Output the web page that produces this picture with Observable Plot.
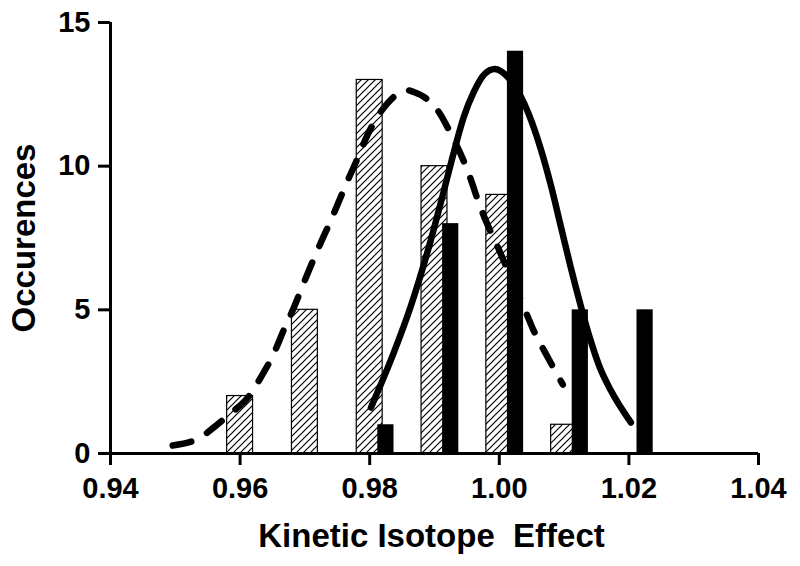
<!DOCTYPE html>
<html>
<head>
<meta charset="utf-8">
<script src="https://cdn.jsdelivr.net/npm/d3@7"></script>
<script src="https://cdn.jsdelivr.net/npm/@observablehq/plot@0.6"></script>
<style>
  html, body { margin: 0; padding: 0; background: #fff; }
  svg text { white-space: pre; }
</style>
</head>
<body>
<div id="chart"></div>
<script>
// Histogram bars (bin centres and counts)
const hatchX = [0.96, 0.97, 0.98, 0.99, 1.00, 1.01];
const hatchN = [2, 5, 13, 10, 9, 1];
const blackX = [0.9825, 0.9925, 1.0025, 1.0125, 1.0225];
const blackN = [1, 8, 14, 5, 5];

// Fitted curves
const dashX = [0.9496, 0.9539, 0.9559, 0.9585, 0.9612, 0.9632, 0.9652, 0.9667, 0.9683, 0.9698, 0.9724, 0.9740, 0.9752, 0.9766, 0.9778, 0.9790, 0.9806, 0.9828, 0.9845, 0.9856, 0.9868, 0.9887, 0.9905, 0.9925, 0.9951, 0.9971, 1.0002, 1.0038, 1.0053, 1.0075, 1.0098];
const dashY = [0.28, 0.56, 0.90, 1.39, 1.95, 2.65, 3.48, 4.28, 5.08, 5.92, 7.31, 8.11, 8.75, 9.50, 10.10, 10.75, 11.50, 12.20, 12.55, 12.65, 12.58, 12.36, 11.94, 11.14, 9.85, 8.56, 6.96, 5.08, 4.28, 3.34, 2.40];
const solidCurveX = [0.9802, 0.9837, 0.9863, 0.9894, 0.9914, 0.9930, 0.9945, 0.9961, 0.9977, 0.9993, 1.0013, 1.0038, 1.0064, 1.0080, 1.0095, 1.0110, 1.0125, 1.0140, 1.0155, 1.0172, 1.0203];
const solidCurveY = [1.60, 3.50, 5.10, 7.40, 9.10, 10.50, 11.70, 12.60, 13.20, 13.38, 13.10, 12.20, 10.60, 9.30, 7.90, 6.50, 5.20, 4.00, 3.00, 2.20, 1.08];

const xTicks = [0.94, 0.96, 0.98, 1.00, 1.02, 1.04];
const yTicks = [0, 5, 10, 15];

const hatchData = hatchX.map((x, i) => ({x, n: hatchN[i]}));
const blackData = blackX.map((x, i) => ({x, n: blackN[i]}));
const dashData = dashX.map((x, i) => ({x, y: dashY[i]}));
const solidData = solidCurveX.map((x, i) => ({x, y: solidCurveY[i]}));

const font = "'Liberation Sans', Arial, Helvetica, sans-serif";

const chart = Plot.plot({
  width: 800,
  height: 566,
  marginLeft: 110,
  marginRight: 42,
  marginTop: 22,
  marginBottom: 113,
  style: {fontFamily: font, background: "#fff", color: "#000", overflow: "visible"},
  x: {domain: [0.94, 1.04]},
  y: {domain: [0, 15]},
  marks: [
    Plot.rect(hatchData, {x1: d => d.x - 0.002, x2: d => d.x + 0.002, y1: 0, y2: "n", fill: "url(#hatch)", stroke: "#000", strokeWidth: 1.2}),
    Plot.rect(blackData, {x1: d => d.x - 0.00125, x2: d => d.x + 0.00125, y1: 0, y2: "n", fill: "#000"}),
    Plot.line(dashData, {x: "x", y: "y", curve: "monotone-x", stroke: "#000", strokeWidth: 6.5, strokeDasharray: "19,18", strokeLinecap: "round"}),
    Plot.line(solidData, {x: "x", y: "y", curve: "monotone-x", stroke: "#000", strokeWidth: 6.5, strokeLinecap: "round"}),
    Plot.axisX({ticks: xTicks, tickFormat: d => d.toFixed(2), tickSize: 12, tickPadding: 12, fontSize: 29, fontWeight: "bold", strokeWidth: 3, label: null}),
    Plot.axisY({ticks: yTicks, tickFormat: d => String(d), tickSize: 12, tickPadding: 8, fontSize: 29, fontWeight: "bold", strokeWidth: 3, label: null}),
    Plot.ruleY([0], {x1: 0.94, x2: 1.04, stroke: "#000", strokeWidth: 3}),
    Plot.ruleX([0.94], {y1: 0, y2: 15, stroke: "#000", strokeWidth: 3}),
    Plot.text(["Occurences"], {frameAnchor: "left", dx: -86, rotate: -90, text: d => d, fontSize: 33, fontWeight: "bold", textAnchor: "middle", lineAnchor: "middle"}),
    Plot.text(["Kinetic Isotope  Effect"], {frameAnchor: "bottom", dx: -3, dy: 83, text: d => d, fontSize: 33, fontWeight: "bold", textAnchor: "middle", lineAnchor: "middle"})
  ]
});

// hatch pattern definition
const ns = "http://www.w3.org/2000/svg";
const defs = document.createElementNS(ns, "defs");
const pat = document.createElementNS(ns, "pattern");
pat.setAttribute("id", "hatch");
pat.setAttribute("patternUnits", "userSpaceOnUse");
pat.setAttribute("width", "7");
pat.setAttribute("height", "7");
const bg = document.createElementNS(ns, "rect");
bg.setAttribute("width", "7"); bg.setAttribute("height", "7"); bg.setAttribute("fill", "#fff");
const p = document.createElementNS(ns, "path");
p.setAttribute("d", "M-1,1 L1,-1 M0,7 L7,0 M6,8 L8,6");
p.setAttribute("stroke", "#000");
p.setAttribute("stroke-width", "1.2");
pat.appendChild(bg);
pat.appendChild(p);
defs.appendChild(pat);
chart.insertBefore(defs, chart.firstChild);

document.getElementById("chart").appendChild(chart);
</script>
</body>
</html>
